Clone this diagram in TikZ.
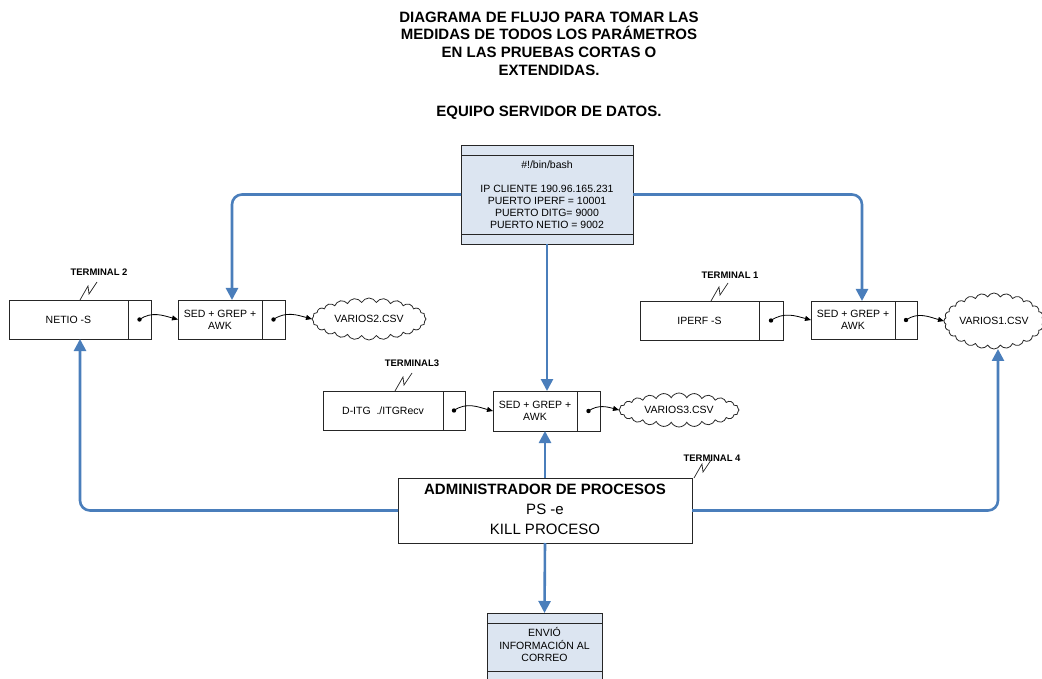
\documentclass[tikz,border=0pt]{standalone}
\usepackage{fontspec}
\setmainfont{Liberation Sans}
\usetikzlibrary{arrows.meta,shapes.symbols,calc}

\definecolor{flowblue}{RGB}{74,126,187}
\definecolor{panelfill}{RGB}{220,229,241}

\begin{document}
\begin{tikzpicture}[x=1pt,y=-1pt,
  every node/.style={inner sep=0pt, outer sep=0pt},
  box/.style={draw=black!85, line width=0.8pt, rectangle, align=center,
    font=\fontsize{10.5}{12}\selectfont},
  panel/.style={box, fill=panelfill},
  csv/.style={cloud, draw=black!85, line width=0.8pt, cloud puffs=24,
    cloud puff arc=125, cloud ignores aspect, font=\fontsize{10.5}{12}\selectfont},
  termlabel/.style={font=\bfseries\fontsize{9.5}{11}\selectfont},
  zig/.style={draw=black!85, line width=0.7pt},
  link/.style={draw=black, line width=0.8pt, -{Triangle[width=5pt,length=6pt]}},
  flow/.style={draw=flowblue, line width=2.6pt, rounded corners=10pt,
    -{Triangle[width=12pt,length=12pt]}},
  dotmark/.style={fill=black}
]
\useasboundingbox (0,0) rectangle (1042,679);

% headings
\node[align=center, font=\bfseries\fontsize{15}{17.7}\selectfont] (title) at (549,43.5)
  {DIAGRAMA DE FLUJO PARA TOMAR LAS\\MEDIDAS DE TODOS LOS PARÁMETROS\\EN LAS PRUEBAS CORTAS O\\EXTENDIDAS.};
\node[font=\bfseries\fontsize{15}{17.7}\selectfont] (subtitle) at (549,113) {EQUIPO SERVIDOR DE DATOS.};

% script panel
\node[panel, minimum width=172pt, minimum height=99pt] (bash) at (547,194.5)
  {\#!/bin/bash\\[12pt]IP CLIENTE 190.96.165.231\\PUERTO IPERF = 10001\\PUERTO DITG= 9000\\PUERTO NETIO = 9002};
\draw[line width=0.8pt, draw=black!85] (bash.west |- 0,155) -- (bash.east |- 0,155);
\draw[line width=0.8pt, draw=black!85] (bash.west |- 0,234) -- (bash.east |- 0,234);

% terminal 2 : netio
\node[box, minimum width=119pt, minimum height=39pt] (netioL) at (68.5,319.5) {NETIO -S};
\node[box, minimum width=23pt, minimum height=39pt] (netioR) at (139.5,319.5) {};
\node[box, minimum width=84pt, minimum height=39pt] (sed1L) at (220,319.5) {SED + GREP +\\AWK};
\node[box, minimum width=23pt, minimum height=39pt] (sed1R) at (273.5,319.5) {};
\node[csv, minimum width=114pt, minimum height=42pt] (csv2) at (369,319) {VARIOS2.CSV};

% terminal 1 : iperf
\node[box, minimum width=119pt, minimum height=39pt] (iperfL) at (699.5,320.5) {IPERF -S};
\node[box, minimum width=24pt, minimum height=39pt] (iperfR) at (771,320.5) {};
\node[box, minimum width=84pt, minimum height=38pt] (sed2L) at (853,320) {SED + GREP +\\AWK};
\node[box, minimum width=22pt, minimum height=38pt] (sed2R) at (906,320) {};
\node[csv, minimum width=100pt, minimum height=56pt] (csv1) at (994,321) {VARIOS1.CSV};

% terminal 3 : d-itg
\node[box, minimum width=120pt, minimum height=39pt] (ditgL) at (383,410.5) {D-ITG\ \ ./ITGRecv};
\node[box, minimum width=22pt, minimum height=39pt] (ditgR) at (454,410.5) {};
\node[box, minimum width=84pt, minimum height=40pt] (sed3L) at (535,411) {SED + GREP +\\AWK};
\node[box, minimum width=23pt, minimum height=40pt] (sed3R) at (588.5,411) {};
\node[csv, minimum width=120pt, minimum height=34pt] (csv3) at (679,410) {VARIOS3.CSV};

% terminal 4 : process manager
\node[box, minimum width=294pt, minimum height=65pt, font=\fontsize{15}{20}\selectfont] (admin) at (545,510.5)
  {\textbf{ADMINISTRADOR DE PROCESOS}\\PS -e\\KILL PROCESO\rule[-2pt]{0pt}{2pt}};

% mail panel
\node[panel, minimum width=115pt, minimum height=69pt] (mail) at (544.5,647.5) {};
\node[align=center, font=\fontsize{10.5}{12.8}\selectfont] (mailtext) at (544.5,644.5)
  {ENVIÓ\\INFORMACIÓN AL\\CORREO};
\draw[line width=0.8pt, draw=black!85] (mail.west |- 0,623) -- (mail.east |- 0,623);
\draw[line width=0.8pt, draw=black!85] (mail.west |- 0,671) -- (mail.east |- 0,671);

% terminal labels with their break marks
\node[termlabel] (t2) at (99,272) {TERMINAL 2};
\node[termlabel] (t1) at (730,275) {TERMINAL 1};
\node[termlabel] (t3) at (412,363) {TERMINAL3};
\node[termlabel] (t4) at (712,458) {TERMINAL 4};
\coordinate (z2) at (80,300);
\coordinate (z1) at (711,301);
\coordinate (z3) at (395,391);
\coordinate (z4) at (694,478);
\foreach \z in {z2,z1,z3,z4}
  \draw[zig] (\z) -- ++(8,-14) -- ++(1,8) -- ++(8,-12);

% output dots and data links
\foreach \n in {netioR,sed1R,iperfR,sed2R,ditgR,sed3R}
  \fill[dotmark] (\n.center) circle (2.2pt);
\draw[link] (netioR.center) to[out=35,in=165] (sed1L.west);
\draw[link] (sed1R.center) to[out=35,in=165] (csv2.west);
\draw[link] (iperfR.center) to[out=35,in=165] (sed2L.west);
\draw[link] (sed2R.center) to[out=35,in=165] (csv1.west);
\draw[link] (ditgR.center) to[out=35,in=165] (sed3L.west);
\draw[link] (sed3R.center) to[out=35,in=165] (csv3.west);

% control flow
\draw[flow] (bash.west) -| ([xshift=12pt]sed1L.north);
\draw[flow] (bash.east) -| ([xshift=9pt]sed2L.north);
\draw[flow] (bash.south) -- (bash.south |- sed3L.north);
\draw[flow] (admin.north) -- (admin.north |- sed3L.south);
\draw[flow] (admin.west) -| ([xshift=11.5pt]netioL.south);
\draw[flow] (admin.east) -| ([xshift=4pt]csv1.south);
\draw[flow] (admin.south) -- (mail.north);
\end{tikzpicture}
\end{document}
